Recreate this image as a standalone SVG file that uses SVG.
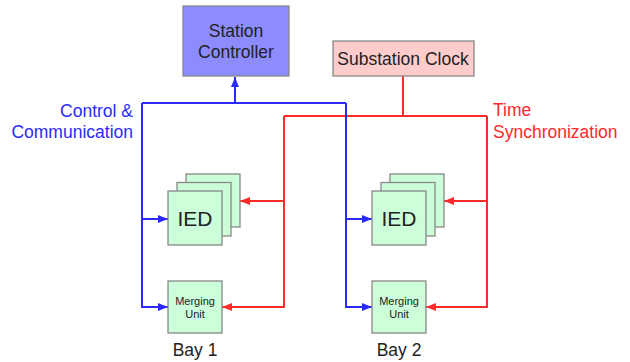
<svg xmlns="http://www.w3.org/2000/svg" width="630" height="362" viewBox="0 0 630 362">
<style>
  text { font-family: "Liberation Sans", Arial, sans-serif; }
  .node { stroke: #888; stroke-width: 1.3; }
  .sc { fill: #8c8cff; }
  .clk { fill: #ffcccc; }
  .grn { fill: #ccffd9; }
  .lbl { fill: #222; text-anchor: middle; }
  .blue { stroke: #2a2aff; stroke-width: 2; fill: none; }
  .red { stroke: #ff2a2a; stroke-width: 2; fill: none; }
  .bt { fill: #2a2aff; font-size: 17.5px; }
  .rt { fill: #ff2a2a; font-size: 17.5px; }
</style>
<defs>
  <marker id="ab" viewBox="0 0 10 8" refX="10" refY="4" markerWidth="10" markerHeight="8" markerUnits="userSpaceOnUse" orient="auto">
    <path d="M0,0 L10,4 L0,8 Z" fill="#2a2aff"/>
  </marker>
  <marker id="ar" viewBox="0 0 10 8" refX="10" refY="4" markerWidth="10" markerHeight="8" markerUnits="userSpaceOnUse" orient="auto">
    <path d="M0,0 L10,4 L0,8 Z" fill="#ff2a2a"/>
  </marker>
</defs>

<g id="connectors">
  <!-- red time sync -->
  <path class="red" d="M403,76 V116"/>
  <path class="red" d="M284,116 H487"/>
  <path class="red" d="M284,116 V307 H222" marker-end="url(#ar)"/>
  <path class="red" d="M284,201 H240" marker-end="url(#ar)"/>
  <path class="red" d="M487,116 V307 H426" marker-end="url(#ar)"/>
  <path class="red" d="M487,201 H444" marker-end="url(#ar)"/>
  <!-- blue control -->
  <path class="blue" d="M142,103 H346"/>
  <path class="blue" d="M235,103 V77" marker-end="url(#ab)"/>
  <path class="blue" d="M142,103 V307 H168" marker-end="url(#ab)"/>
  <path class="blue" d="M142,219 H168" marker-end="url(#ab)"/>
  <path class="blue" d="M346,103 V307 H372" marker-end="url(#ab)"/>
  <path class="blue" d="M346,219 H372" marker-end="url(#ab)"/>
</g>

<g id="station-controller">
  <rect class="node sc" x="183" y="6" width="106" height="70"/>
  <text class="lbl" x="236" y="37" font-size="17.5">Station</text>
  <text class="lbl" x="236" y="58" font-size="17.5">Controller</text>
</g>

<g id="substation-clock">
  <rect class="node clk" x="333" y="41" width="141" height="35"/>
  <text class="lbl" x="403" y="65" font-size="17.5">Substation Clock</text>
</g>

<g id="ied-bay1">
  <rect class="node grn" x="186" y="174" width="54" height="53"/>
  <rect class="node grn" x="177" y="182.5" width="54" height="53.5"/>
  <rect class="node grn" x="168" y="191" width="54" height="54"/>
  <text class="lbl" x="195" y="226" font-size="21">IED</text>
</g>

<g id="mu-bay1">
  <rect class="node grn" x="168" y="281" width="54" height="52"/>
  <text class="lbl" x="195" y="305" font-size="11">Merging</text>
  <text class="lbl" x="195" y="317.5" font-size="11">Unit</text>
</g>

<g id="ied-bay2">
  <rect class="node grn" x="390" y="174" width="54" height="53"/>
  <rect class="node grn" x="381" y="182.5" width="54" height="53.5"/>
  <rect class="node grn" x="372" y="191" width="54" height="54"/>
  <text class="lbl" x="399" y="226" font-size="21">IED</text>
</g>

<g id="mu-bay2">
  <rect class="node grn" x="372" y="281" width="54" height="52"/>
  <text class="lbl" x="399" y="305" font-size="11">Merging</text>
  <text class="lbl" x="399" y="317.5" font-size="11">Unit</text>
</g>

<g id="labels">
  <text class="bt" x="133" y="117" text-anchor="end">Control &amp;</text>
  <text class="bt" x="133" y="138" text-anchor="end">Communication</text>
  <text class="rt" x="493" y="116">Time</text>
  <text class="rt" x="493" y="138">Synchronization</text>
  <text class="lbl" x="195" y="356" font-size="17.5">Bay 1</text>
  <text class="lbl" x="399" y="356" font-size="17.5">Bay 2</text>
</g>
</svg>
